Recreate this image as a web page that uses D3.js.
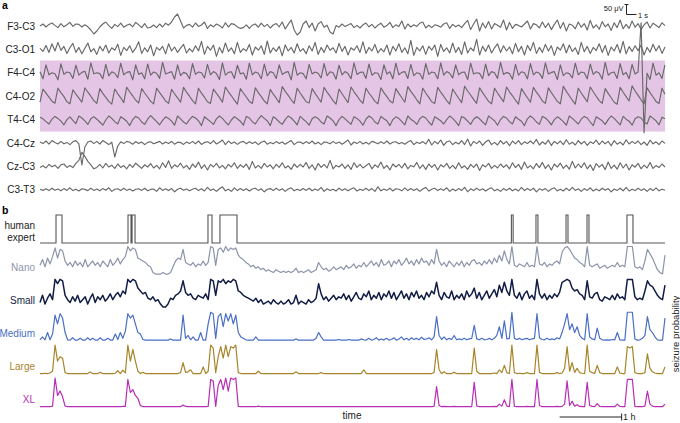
<!DOCTYPE html>
<html><head><meta charset="utf-8">
<script src="https://cdn.jsdelivr.net/npm/d3@7"></script>
<style>body{margin:0;background:#fff}svg{display:block}text{font-family:"Liberation Sans",Arial,sans-serif}</style>
</head><body>
<script>
// ---------- Panel a: EEG channels (µV, evenly sampled over 62.5 s) ----------
const channels = ["F3-C3","C3-O1","F4-C4","C4-O2","T4-C4","C4-Cz","Cz-C3","C3-T3"];
const eegF3C3 = [0,10,-5,8,15,3,-8,12,-4,6, 18,-2,10,8,-5,6,-4,-20,-40,-25, -5,10,20,2,-12,8,-3,14,-6,4, 10,-4,18,6,-8,12,-10,-6,5,-8, 10,-5,14,4,20,45,60,25,-10,3, 8,-6,15,-2,5,20,-12,6,-4,10, 2,-10,16,-5,12,8,-5,-12,-8,6, -12,4,10,-6,14,-3,8,-10,5,12, -4,20,-15,8,30,-20,-45,-30,10,25, -8,15,-25,10,22,-6,4,-30,-40,2, -6,10,-3,5,12,-8,3,-10,6,15, -4,8,-10,4,14,-6,2,18,-8,6, -3,25,-15,10,-5,6,-2,14,20,-10, 4,-8,6,2,-6,10,16,-12,8,-4, 5,-8,12,28,-18,10,35,-25,15,-10, 22,-15,12,4,-6,30,-20,18,-12,8, 3,-5,10,25,-15,12,6,-10,20,-8, 14,-18,8,30,-12,18,-25,10,4,-14, 20,-6,12,-20,28,-10,6,-16,22,-4, 10,-22,16,-8,30,-14,8,-12,25,-6, 12,-18,6,20,-10,14,4,-8,16,2];
const eegC3O1 = [5,-10,20,-15,28,-8,35,-5,15,-20, 8,30,-15,10,-22,6,32,-12,4,-25, 15,-8,22,-18,8,-4,26,-30,10,-6, 18,-15,6,38,-20,8,-12,22,-32,10, -4,15,-22,28,-8,12,-15,6,25,-18, 4,-12,18,-8,40,-25,15,-4,22,-35, 10,-18,32,-10,8,-22,35,-15,4,-8, 25,-28,12,-4,18,-25,42,-18,8,-10, 15,-32,22,-8,10,-18,28,-10,4,-22, 18,-8,35,-25,10,-15,22,-4,8,-18, 30,-10,15,-28,8,-4,18,-15,38,-20, 10,-8,25,-18,4,-12,22,-28,15,-8, 28,-15,8,-22,45,-30,10,-8,18,-25, 15,-4,22,-35,25,-10,8,-18,32,-15, 10,-25,38,-18,8,-8,50,-28,15,-10, 22,-18,8,28,-15,18,-8,12,-22,30, -12,15,-28,20,-6,35,-20,10,-15,25, -8,18,-30,12,-4,28,-18,22,-10,8, -25,35,-12,15,-20,10,-6,28,-15,20, -30,12,-8,25,-18,40,-22,14,-10,18, -6,22,-28,10,-14,26,-8,18,-20,12];
const eegF4C4 = [5,-30,40,-10,0,-5,-35,45,-8,4, 0,-28,38,-12,2,8,-32,50,-5,0, -4,-30,42,-15,5,-2,-25,48,-10,2, 6,-35,40,-8,0,-30,44,-12,4,-2, -28,52,-6,0,6,-32,40,-14,2,-4, -30,46,-8,4,0,-26,42,-10,6,-3, -34,50,-12,2,5,-28,38,-6,0,-32, 48,-10,4,-2,-30,44,-15,6,0,-28, 40,-8,2,6,-35,52,-12,0,-4,-30, 42,-6,4,-2,-26,46,-14,5,0,-32, 38,-10,6,-4,-30,50,-8,2,4,-28, 44,-12,0,-2,-34,40,-6,5,-30,48, -10,2,6,-28,42,-14,0,-4,-32,46, -8,4,0,-30,50,-12,6,-2,-26,40, -10,2,4,-34,48,-6,0,-3,-30,44, -14,6,0,-28,52,-8,2,-4,-32,42, -12,5,0,-30,46,-10,4,-2,-28,50, -6,2,6,-34,40,-14,0,-4,-26,48, -10,4,0,-30,44,-8,6,-2,-32,52, -12,0,4,-28,46,-10,2,-30,42,-6, 4,250,-300,-2,-34,48,-12,0,-28,40];
const eegC4O2 = [-30,35,15,-5,-25,-35,40,18,-2,-28, -38,32,10,-10,-30,42,20,0,-22,-36, 38,14,-6,-26,-40,36,12,-8,-32,45, 22,2,-20,-34,38,16,-4,-26,-38,40, 18,-2,-24,-36,34,12,-8,-30,44,20, 0,-22,-38,40,15,-5,-28,-36,36,14, -6,-30,46,22,2,-20,-40,38,16,-4, -26,-36,42,18,-2,-24,-38,34,10,-10, -32,48,24,4,-18,-36,40,16,-6,-28, -34,38,14,-8,-30,44,20,0,-22,-40, 36,12,-10,-32,46,22,2,-20,-36,40, 16,-4,-26,-38,42,18,-2,-24,-34,38, 14,-8,-30,48,24,4,-18,-38,40,16, -6,-28,-36,44,20,0,-22,-40,36,12, -10,-32,50,26,6,-16,-36,42,18,-4, -26,-38,40,16,-6,-28,46,22,2,-20, -40,38,14,-8,-30,44,20,0,-24,-36, 42,18,-4,-26,-38,50,24,2,-20,-40, 40,16,-6,-28,46,22,0,-22,-36,38, 14,-8,-30,-40,44,20,-2,-24,52,26, 4,-18,-38,42,18,-4,-26,-36,40,10];
const eegT4C4 = [12,4,-10,-22,2,16,6,-8,-26,0, 14,-4,-20,18,8,-6,-24,4,15,2, -12,-28,-2,18,6,-10,-22,14,4,-8, -30,0,16,8,-12,-24,2,20,5,-10, -26,-4,14,6,-8,-28,18,4,-12,-22, 0,16,8,-6,-30,14,2,-10,-24,4, 18,6,-12,-26,-2,15,4,-8,-28,16, 8,-10,-22,2,20,6,-6,-30,14,4, -12,-24,0,18,8,-8,-26,16,2,-10, -28,4,14,6,-12,-22,18,8,-6,-30, 0,16,4,-10,-24,14,6,-8,-28,2, 18,8,-12,-22,16,4,-6,-30,0,14, 6,-10,-26,18,2,-8,-24,4,16,8, -12,-28,14,4,-6,-22,0,18,6,-10, -30,16,8,-8,-24,2,14,4,-12,-26, 18,6,-6,-28,0,16,8,-10,-22,14, 2,-8,-30,4,18,6,-12,-24,16,8, -6,-26,0,14,4,-10,-28,18,6,-8, -22,2,16,8,-12,-30,14,4,-6,-24, 0,18,6,-10,-26,16,2,-8,-28,4, 14,8,-12,-22,18,6,-6,-26,12,4];
const eegC4Cz = [5,-3,10,-6,12,2,-5,8,-4,3, -8,6,12,-4,-110,-20,5,10,-3,8, -5,12,2,-8,4,-70,-15,6,-3,8, 4,-6,7,-3,5,-8,3,6,-4,2, 8,-5,5,-2,8,-6,4,3,-7,5, -3,8,-4,10,-7,3,6,-3,12,-5, 4,15,-8,10,-3,5,-7,4,8,-4, 6,-3,5,-8,4,10,-6,3,-4,7, -3,5,-6,4,12,-8,3,5,-4,7, -3,10,-5,4,-8,5,3,-4,8,-3, 5,-6,4,15,-10,5,-3,8,-5,4, -6,8,3,-4,6,-3,10,-5,4,6, -4,3,-6,5,12,-8,4,-3,7,-5, 18,-10,8,-4,15,-12,6,10,-8,4, -5,12,-8,20,-15,8,-3,10,-12,5, 15,-8,3,-10,12,-5,8,-14,10,-4, 12,-8,6,-3,10,-4,18,-10,6,-6, 14,-12,8,-4,10,-8,16,-6,4,-10, 12,-5,8,-12,6,-3,14,-8,10,-4, 8,-14,12,-6,4,-10,16,-5,8,-3, 10,-8,5,-12,14,-4,6,-8,10,-2];
const eegCzC3 = [-5,3,-8,10,-2,6,-10,8,12,-5, 4,-6,15,30,70,50,25,8,-12,-5, 10,-8,15,-3,6,-10,12,-5,4,-12, 10,-5,16,3,-10,8,-3,14,-8,5, -12,18,-5,28,-10,8,-3,16,-8,5, -15,12,-5,22,-10,8,-18,10,-3,15, -8,5,-12,10,-3,18,-10,8,-5,12, -15,25,-8,5,-10,15,-3,8,-12,10, -5,18,-8,3,-15,12,-5,10,-3,20, -10,8,-18,15,-5,10,-8,30,-12,5, -3,12,-10,8,-15,18,-5,10,-8,3, 15,-12,8,-5,22,-10,5,-18,12,-3, 10,-8,15,-12,5,-3,20,-10,8,-15, 12,-5,10,-18,8,-3,15,-10,5,-12, 18,-8,3,-15,10,-5,12,-20,8,-3, 15,-10,5,-8,12,-5,8,-12,18,-6, 10,-15,22,-8,4,-12,14,-6,20,-10, 8,-18,12,-4,16,-10,6,-14,25,-8, 12,-6,18,-12,8,-20,14,-4,10,-16, 22,-10,6,-14,18,-8,12,-18,8,-4, 15,-12,6,-8,20,-10,4,-6,12,-3];
const eegC3T3 = [3,-3,5,-4,8,-2,4,-5,6,-3, 10,-4,3,-6,5,2,-4,8,-3,4, -5,6,-2,10,-8,3,5,-4,8,-3, 4,-6,3,5,-3,8,-5,2,4,-8, 10,-3,5,-4,6,-10,3,8,-2,4, -5,3,8,-4,5,-6,12,-3,4,-8, 5,15,-5,3,-8,10,-4,6,-3,5, -6,4,8,-3,5,-10,3,6,-4,8, -3,5,-8,4,10,-5,3,-4,6,-3, 8,-5,4,-3,12,-8,5,-4,3,-6, 8,-3,5,-5,4,10,-6,3,-3,8, -4,6,-8,15,-5,4,-3,8,-6,5, 3,-5,10,-4,6,-3,5,-8,4,12, -6,3,8,-4,5,-3,10,-8,4,-5, 6,-3,12,-10,5,-4,8,-3,5,-6, 4,10,-5,3,-8,6,-3,8,-5,4, -6,12,-4,6,-3,8,-10,5,-2,6, -8,4,10,-5,3,-6,8,-4,12,-3, 5,-8,6,-3,10,-6,4,-5,8,-2, 6,-10,4,-3,8,-5,12,-6,3,-4, 8,-3,5,-8,6,-4,10,-5,3,-2];
const eegData = [eegF3C3,eegC3O1,eegF4C4,eegC4O2,eegT4C4,eegC4Cz,eegCzC3,eegC3T3];
const eegDuration = 62.5; // seconds

// ---------- Panel b: expert annotation (minutes) and model seizure probabilities ----------
const totalMinutes = 605;
const expertStarts = [15.5, 85.2, 89.1, 162.6, 174.2, 456.3, 480.1, 509.2, 529.5, 568.2];
const expertEnds   = [21.3, 88.1, 92.0, 166.5, 190.7, 458.0, 482.0, 511.1, 531.4, 574.0];
const models = ["Nano","Small","Medium","Large","XL"];
const probNano = [.35,.55,.3,.6,.4,.65,.95,.6,.9,.85, .5,.35,.45,.3,.5,.35,.45,.3,.55,.3, .4,.5,.35,.45,.3,.5,.4,.3,.55,.35, .45,.6,.4,.55,.65,1,.85,.95,.9,.6, .55,.5,.45,.35,.3,.1,.05,.05,.05,.1, .05,.05,.1,.3,.5,.6,.55,.9,.45,.4, .35,.45,.3,.4,.35,.5,.35,.45,1,.95, .35,.9,.95,.8,1,.85,.95,.9,.95,.7, .6,.55,.45,.4,.3,.35,.25,.3,.2,.25, .15,.2,.15,.1,.2,.15,.1,.15,.1,.15, .1,.15,.25,.1,.15,.1,.15,.2,.1,.15, .2,.45,.3,.2,.25,.15,.2,.3,.2,.25, .3,.2,.35,.25,.3,.4,.25,.35,.3,.45, .3,.4,.5,.35,.45,.3,.55,.35,.4,.5, .3,.5,.4,.55,.35,.45,.6,.4,.5,.35, .55,.4,.6,.45,.5,.35,.55,.4,.9,.5, .35,.45,.3,.5,.4,.3,.45,.35,.5,.3, .45,.35,.5,.55,.4,.45,.35,.5,.4,.55, .4,.6,.45,.7,.5,.85,.55,.4,1,.35, .3,.4,.35,.3,.45,.3,.35,.3,1,.4, .35,.45,.3,.4,.35,.45,.5,.4,.8,.95, 1,.9,.75,.6,.55,.45,.4,.3,1,.35, .3,.35,.4,.25,.3,.35,.25,.3,.35,.3, .45,.3,.35,.3,1,1,1,.3,.25,.3, .2,.5,.9,.75,.6,.4,.2,.1,.05,.7];
const probSmall = [.2,.45,.15,.35,.5,.3,1,.85,1,.95, .45,.3,.2,.4,.25,.45,.2,.3,.4,.15, .35,.5,.2,.4,.3,.45,.25,.35,.5,.3, .45,.55,.4,.6,.5,1,.9,1,.95,.7, .6,.5,.55,.35,.3,.4,.25,.3,.15,.05, .05,.15,.35,.3,.45,.5,.6,.95,.55,.45, .5,.35,.3,.45,.4,.35,.5,.3,1,.95, .45,.95,.9,1,.85,.95,.9,1,.95,.6, .55,.45,.4,.35,.3,.25,.35,.2,.3,.15, .2,.25,.15,.3,.2,.15,.25,.15,.2,.3, .15,.2,.45,.15,.25,.2,.15,.3,.2,.25, .35,.85,.5,.3,.4,.25,.35,.45,.3,.4, .35,.5,.3,.45,.25,.4,.55,.35,.3,.5, .4,.6,.3,.45,.35,.55,.3,.5,.4,.6, .35,.55,.3,.45,.6,.35,.5,.3,.55,.4, .6,.35,.45,.3,.55,.4,.6,.5,.9,.45, .3,.55,.4,.35,.6,.3,.45,.35,.5,.3, .6,.4,.5,.7,.35,.55,.3,.45,.6,.35, .5,.65,.4,.8,.55,.9,.6,.45,1,.45, .35,.55,.3,.5,.6,.35,.45,.3,1,.5, .35,.5,.3,.45,.35,.5,.4,.55,.9,.95, 1,.95,.7,.6,.65,.5,.45,.3,.95,.4, .35,.5,.55,.3,.25,.4,.35,.3,.45,.3, .5,.35,.4,.3,1,1,1,.4,.3,.35, .3,.6,.95,.8,.75,.6,.45,.35,.3,.8];
const probMedium = [.05,.15,.05,.3,.05,.25,.9,.6,.95,.8, .3,.05,.04,.12,.04,.04,.1,.04,.04,.12, .04,.1,.04,.04,.12,.04,.04,.1,.04,.04, .25,.06,.3,.1,.35,.95,.8,.9,.6,.3, .25,.06,.04,.04,.04,.04,.04,.04,.04,.04, .04,.04,.08,.04,.04,.04,.04,.9,.1,.2, .05,.15,.04,.04,.3,.04,.04,.6,1,.95, .1,.85,.95,.5,.95,.7,.95,.6,.9,.3, .15,.1,.05,.04,.04,.04,.15,.04,.04,.04, .04,.04,.04,.04,.04,.04,.04,.04,.04,.04, .04,.04,.08,.04,.04,.04,.04,.04,.04,.04, .1,.3,.15,.04,.04,.04,.04,.04,.04,.06, .04,.04,.04,.06,.04,.04,.04,.04,.08,.05, .04,.1,.04,.06,.12,.04,.08,.04,.1,.04, .06,.12,.04,.08,.15,.05,.1,.04,.12,.06, .1,.05,.14,.06,.08,.12,.05,.15,.85,.2, .06,.15,.05,.1,.06,.2,.05,.08,.05,.1, .05,.08,.1,.55,.08,.05,.1,.05,.06,.1, .05,.1,.2,.5,.1,.7,.08,.1,1,.1, .06,.1,.05,.08,.1,.05,.08,.1,.95,.12, .06,.05,.1,.05,.08,.05,.12,.08,.3,.6, .95,.4,.6,.3,.5,.2,.1,.05,.95,.15, .08,.05,.45,.1,.05,.04,.05,.04,.06,.05, .3,.05,.04,.04,1,1,1,.08,.04,.05, .1,.2,.85,.4,.3,.15,.05,.04,.04,.8];
const probLarge = [.02,.02,.03,.02,.04,.1,1,.45,.6,.55, .05,.02,.02,.02,.02,.02,.02,.02,.02,.02, .07,.02,.02,.02,.06,.02,.02,.02,.02,.02, .03,.12,.02,.14,.04,1,.45,.85,.45,.1, .02,.06,.02,.02,.02,.02,.02,.02,.02,.02, .02,.02,.02,.02,.02,.02,.05,.4,.06,.08, .15,.02,.02,.02,.02,.25,.02,.1,1,.9, .05,.6,.95,.55,1,.6,.95,.9,1,.05, .02,.02,.02,.02,.02,.02,.02,.1,.02,.02, .02,.02,.02,.02,.02,.02,.02,.02,.02,.02, .02,.02,.08,.02,.02,.02,.02,.02,.02,.02, .02,.02,.05,.02,.02,.02,.02,.02,.02,.02, .02,.02,.02,.02,.02,.02,.02,.02,.02,.15, .02,.02,.02,.02,.02,.02,.02,.02,.02,.02, .02,.02,.02,.02,.02,.02,.02,.02,.02,.02, .02,.02,.02,.02,.02,.02,.02,.05,.85,.15, .02,.08,.02,.02,.02,.06,.02,.02,.02,.02, .02,.02,.02,.9,.1,.02,.02,.02,.02,.02, .02,.04,.02,.15,.05,.3,.05,.02,1,.05, .02,.03,.02,.02,.05,.02,.02,.02,1,.06, .02,.02,.02,.02,.02,.02,.05,.02,.04,.2, .95,.1,.4,.06,.2,.05,.03,.02,1,.1, .05,.02,.3,.05,.02,.02,.02,.02,.02,.02, .25,.04,.02,.02,.95,.9,.95,.05,.02,.02, .02,.05,.7,.2,.08,.04,.02,.02,.02,.25];
const probXL = [.01,.01,.01,.01,.01,.03,1,.4,.55,.35, .03,.01,.01,.01,.01,.01,.01,.01,.01,.01, .01,.01,.01,.01,.01,.01,.01,.01,.01,.01, .01,.01,.01,.02,.02,.95,.5,.6,.4,.3, .05,.01,.01,.01,.01,.01,.01,.01,.01,.01, .01,.01,.01,.01,.01,.01,.01,.07,.02,.01, .01,.01,.01,.01,.01,.01,.01,.02,.95,.9, .02,.75,.95,.6,1,.55,1,.95,1,.02, .01,.01,.01,.01,.01,.01,.01,.03,.01,.01, .01,.01,.01,.01,.01,.01,.01,.01,.01,.01, .01,.01,.01,.01,.01,.01,.01,.01,.01,.01, .01,.01,.01,.01,.01,.01,.01,.01,.01,.01, .01,.01,.01,.01,.01,.01,.01,.01,.01,.01, .01,.01,.01,.01,.01,.01,.01,.01,.01,.01, .01,.01,.01,.01,.01,.01,.01,.01,.01,.01, .01,.01,.01,.01,.01,.01,.01,.02,.7,.05, .01,.02,.01,.01,.01,.02,.01,.01,.01,.01, .01,.01,.01,.85,.04,.01,.01,.01,.01,.01, .01,.02,.01,.1,.03,.25,.03,.01,.95,.02, .01,.01,.01,.01,.02,.01,.01,.01,.95,.05, .01,.01,.01,.01,.01,.01,.02,.01,.02,.1, .9,.05,.2,.03,.08,.02,.01,.01,.85,.05, .02,.01,.12,.02,.01,.01,.01,.01,.01,.01, .1,.02,.01,.01,.95,.95,.95,.02,.01,.01, .01,.03,.55,.1,.03,.01,.01,.01,.01,.1];
const probData = [probNano,probSmall,probMedium,probLarge,probXL];
const modelColors = ["#8c94aa","#121d45","#4a6fc6","#a8852a","#b92eb6"];
const modelWidths = [1.2, 1.5, 1.2, 1.2, 1.2];
const scaleBarMinutes = [503, 563];

// ---------- Drawing ----------
const W = 680, H = 423;
const svg = d3.select("body").append("svg").attr("width", W).attr("height", H);
const X0 = 40, X1 = 665, labelX = 35;

svg.append("text").attr("x", 2).attr("y", 9).attr("font-size", 10.5).attr("font-weight", "bold").text("a");
svg.append("text").attr("x", 2).attr("y", 214).attr("font-size", 10.5).attr("font-weight", "bold").text("b");

// EEG
const xE = d3.scaleLinear().domain([0, eegDuration]).range([X0, X1]);
const rowY = d3.scalePoint().domain(channels).range([26, 189.8]);
const uvPerPx = 5;
const bandTop = rowY("F4-C4") - 12.3, bandBot = rowY("T4-C4") + 12;
svg.append("rect").attr("x", X0).attr("y", bandTop).attr("width", X1 - X0).attr("height", bandBot - bandTop).attr("fill", "#e5c5e6");

channels.forEach((ch, k) => {
  const yc = rowY(ch);
  const y = d3.scaleLinear().domain([-50, 50]).range([yc + 50/uvPerPx, yc - 50/uvPerPx]);
  const arr = eegData[k];
  const line = d3.line().x((d, i) => xE(i * eegDuration / (arr.length - 1))).y(d => y(d));
  svg.append("path").attr("d", line(arr)).attr("fill", "none").attr("stroke", "#696969").attr("stroke-width", 1.15).attr("stroke-linejoin", "round");
  svg.append("text").attr("x", labelX).attr("y", yc).attr("dy", "0.35em").attr("text-anchor", "end").attr("font-size", 10).attr("fill", "#222").text(ch);
});

// EEG scale bar: 50 µV and 1 s
const sbX = 626.5, sbY = 14.5;
const ySB = d3.scaleLinear().domain([0, 50]).range([sbY, sbY - 50/uvPerPx]);
const sbT0 = xE.invert(sbX);
svg.append("path").attr("d", `M${sbX-2},${ySB(50)}H${sbX+2}M${sbX},${ySB(50)}V${ySB(0)}H${xE(sbT0+1)}`).attr("fill", "none").attr("stroke", "#222").attr("stroke-width", 1);
svg.append("text").attr("x", sbX - 3).attr("y", 11).attr("text-anchor", "end").attr("font-size", 7.5).attr("fill", "#222").text("50 μV");
svg.append("text").attr("x", xE(sbT0 + 1) + 1.5).attr("y", 18).attr("font-size", 7.5).attr("fill", "#222").text("1 s");

// Panel b
const xT = d3.scaleLinear().domain([0, totalMinutes]).range([X0, X1]);
const yEx = d3.scaleLinear().domain([0, 1]).range([243, 215]);
const expertPts = [[0, 0]];
expertStarts.forEach((s, i) => { const e = expertEnds[i]; expertPts.push([s, 0], [s, 1], [e, 1], [e, 0]); });
expertPts.push([totalMinutes, 0]);
svg.append("path").attr("d", d3.line().x(d => xT(d[0])).y(d => yEx(d[1]))(expertPts)).attr("fill", "none").attr("stroke", "#555").attr("stroke-width", 1.1);
svg.append("text").attr("x", labelX).attr("y", 225).attr("dy", "0.35em").attr("text-anchor", "end").attr("font-size", 10).attr("fill", "#222").text("human");
svg.append("text").attr("x", labelX).attr("y", 237.5).attr("dy", "0.35em").attr("text-anchor", "end").attr("font-size", 10).attr("fill", "#222").text("expert");

const modelBase = d3.scalePoint().domain(models).range([275.5, 407]);
models.forEach((m, k) => {
  const b = modelBase(m);
  const y = d3.scaleLinear().domain([0, 1]).range([b, b - 29]);
  const arr = probData[k];
  const line = d3.line().x((d, i) => xT(i * totalMinutes / (arr.length - 1))).y(d => y(d));
  svg.append("path").attr("d", line(arr)).attr("fill", "none").attr("stroke", modelColors[k]).attr("stroke-width", modelWidths[k]).attr("stroke-linejoin", "round");
  svg.append("text").attr("x", labelX).attr("y", b - 8).attr("dy", "0.35em").attr("text-anchor", "end").attr("font-size", 10).attr("fill", modelColors[k]).text(m);
});

svg.append("text").attr("x", 352).attr("y", 419).attr("text-anchor", "middle").attr("font-size", 10).attr("fill", "#222").text("time");
svg.append("path").attr("d", `M${xT(scaleBarMinutes[0])},417H${xT(scaleBarMinutes[1])}M${xT(scaleBarMinutes[1])},413.5V420.5`).attr("stroke", "#222").attr("stroke-width", 1).attr("fill", "none");
svg.append("text").attr("x", xT(scaleBarMinutes[1]) + 1.5).attr("y", 420).attr("font-size", 9).attr("fill", "#222").text("1 h");

svg.append("text").attr("transform", "translate(678.5,334) rotate(-90)").attr("text-anchor", "middle").attr("font-size", 9.5).attr("fill", "#222").text("seizure probability");
</script>
</body></html>
